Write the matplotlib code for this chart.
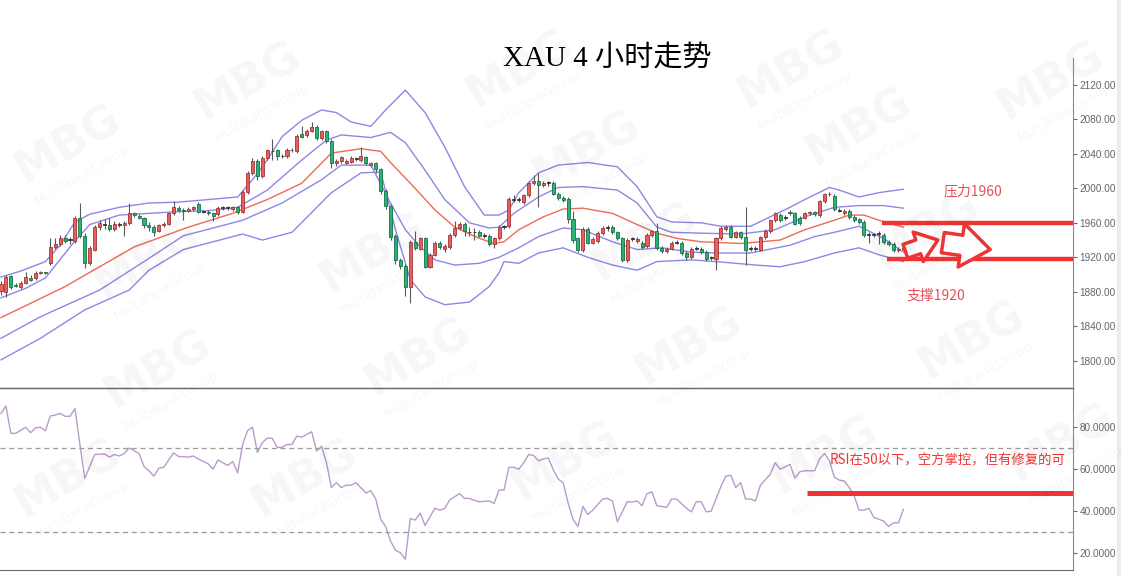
import matplotlib
matplotlib.use("Agg")
import matplotlib.pyplot as plt
from matplotlib.lines import Line2D
import numpy as np

plt.rcParams['font.family'] = ['Noto Sans CJK SC', 'DejaVu Sans']

# 4小时K线 (开, 收, 高, 低)
opens = [1881, 1880, 1898, 1888, 1885, 1890, 1896, 1896, 1902, 1903,
         1913, 1932, 1935, 1942, 1940, 1939, 1966, 1945, 1913, 1929,
         1955, 1958, 1958, 1953, 1958, 1958, 1960, 1971, 1968, 1966,
         1958, 1955, 1951, 1957, 1959, 1971, 1977, 1975, 1974, 1976,
         1982, 1973, 1973, 1971, 1970, 1977, 1977, 1976, 1978, 1972,
         1996, 2018, 2032, 2014, 2035, 2043, 2044, 2037, 2037, 2045,
         2043, 2063, 2062, 2067, 2071, 2058, 2066, 2055, 2030, 2032,
         2030, 2031, 2034, 2033, 2036, 2027, 2029, 2022, 1997, 1980,
         1945, 1917, 1910, 1886, 1938, 1930, 1942, 1909, 1923, 1937,
         1930, 1932, 1946, 1954, 1959, 1949, 1949, 1949, 1945, 1945,
         1935, 1942, 1955, 1956, 1987, 1987, 1984, 1992, 2006, 2008,
         2004, 2006, 2006, 1994, 1989, 1988, 1964, 1942, 1928, 1953,
         1937, 1939, 1948, 1954, 1955, 1949, 1942, 1917, 1941, 1939,
         1937, 1933, 1946, 1950, 1931, 1927, 1930, 1937, 1937, 1925,
         1920, 1930, 1930, 1926, 1919, 1918, 1942, 1953, 1955, 1944,
         1949, 1943, 1930, 1930, 1929, 1943, 1950, 1963, 1969, 1966,
         1973, 1971, 1966, 1966, 1971, 1972, 1969, 1985, 1993, 1991,
         1974, 1971, 1974, 1967, 1964, 1961, 1946, 1946, 1947, 1946,
         1938, 1936, 1928, 1930]
closes = [1889, 1897, 1885, 1887, 1890, 1897, 1894, 1902, 1903, 1902,
          1932, 1935, 1942, 1939, 1940, 1966, 1945, 1913, 1931, 1955,
          1960, 1958, 1953, 1959, 1958, 1960, 1971, 1969, 1966, 1957,
          1955, 1949, 1957, 1959, 1971, 1978, 1975, 1974, 1976, 1978,
          1973, 1973, 1971, 1968, 1977, 1977, 1977, 1978, 1972, 1996,
          2018, 2032, 2014, 2035, 2044, 2043, 2037, 2037, 2045, 2044,
          2061, 2060, 2067, 2071, 2058, 2066, 2055, 2030, 2032, 2036,
          2032, 2035, 2034, 2038, 2030, 2029, 2022, 1997, 1980, 1944,
          1917, 1910, 1886, 1938, 1931, 1942, 1909, 1923, 1937, 1932,
          1933, 1946, 1954, 1959, 1951, 1949, 1949, 1945, 1945, 1935,
          1942, 1955, 1955, 1988, 1987, 1987, 1992, 2006, 2008, 2004,
          2006, 2006, 1994, 1989, 1987, 1964, 1940, 1929, 1953, 1937,
          1941, 1948, 1954, 1954, 1949, 1942, 1917, 1940, 1941, 1941,
          1932, 1946, 1950, 1931, 1927, 1930, 1937, 1937, 1925, 1920,
          1930, 1930, 1926, 1918, 1919, 1942, 1954, 1955, 1944, 1949,
          1943, 1929, 1930, 1930, 1943, 1951, 1963, 1971, 1963, 1966,
          1971, 1959, 1960, 1971, 1972, 1970, 1985, 1993, 1994, 1976,
          1974, 1974, 1967, 1963, 1961, 1946, 1946, 1946, 1947, 1938,
          1935, 1928, 1930, 1930]
highs = [1893, 1899, 1900, 1890, 1892, 1903, 1899, 1904, 1904, 1903,
         1942, 1942, 1946, 1946, 1944, 1968, 1983, 1948, 1933, 1957,
         1963, 1965, 1966, 1962, 1961, 1962, 1983, 1973, 1970, 1967,
         1961, 1958, 1959, 1961, 1973, 1985, 1979, 1977, 1978, 1980,
         1984, 1975, 1975, 1973, 1979, 1979, 1980, 1980, 1979, 1998,
         2020, 2035, 2034, 2037, 2046, 2057, 2046, 2040, 2047, 2047,
         2063, 2072, 2069, 2077, 2073, 2068, 2068, 2057, 2034, 2038,
         2034, 2037, 2036, 2048, 2038, 2031, 2031, 2024, 1999, 1982,
         1947, 1919, 1912, 1940, 1950, 1944, 1944, 1925, 1939, 1939,
         1935, 1948, 1962, 1961, 1961, 1955, 1954, 1952, 1948, 1947,
         1944, 1957, 1958, 1990, 1992, 1990, 1994, 2008, 2015, 2018,
         2008, 2009, 2008, 1996, 1991, 1990, 1974, 1944, 1955, 1955,
         1943, 1950, 1956, 1957, 1957, 1951, 1944, 1942, 1943, 1943,
         1939, 1948, 1952, 1960, 1933, 1932, 1939, 1940, 1939, 1927,
         1932, 1933, 1932, 1928, 1921, 1944, 1956, 1957, 1957, 1951,
         1951, 1978, 1933, 1933, 1945, 1953, 1965, 1973, 1971, 1969,
         1975, 1973, 1968, 1973, 1974, 1974, 1987, 1995, 1996, 1993,
         1977, 1976, 1976, 1969, 1966, 1963, 1949, 1948, 1950, 1948,
         1940, 1938, 1932, 1932]
lows = [1876, 1874, 1883, 1885, 1883, 1889, 1892, 1894, 1901, 1901,
        1911, 1930, 1933, 1937, 1936, 1937, 1942, 1908, 1911, 1927,
        1952, 1953, 1950, 1951, 1955, 1945, 1958, 1967, 1964, 1954,
        1950, 1945, 1949, 1955, 1957, 1969, 1973, 1963, 1972, 1974,
        1971, 1971, 1969, 1962, 1968, 1975, 1975, 1974, 1970, 1971,
        1994, 2016, 2010, 2012, 2033, 2033, 2033, 2035, 2035, 2042,
        2041, 2058, 2060, 2065, 2056, 2056, 2053, 2024, 2026, 2030,
        2028, 2029, 2032, 2031, 2027, 2025, 2018, 1993, 1976, 1940,
        1912, 1906, 1875, 1867, 1929, 1928, 1907, 1907, 1921, 1930,
        1926, 1930, 1944, 1952, 1945, 1945, 1940, 1943, 1942, 1933,
        1931, 1940, 1953, 1954, 1984, 1984, 1982, 1990, 2004, 1978,
        2002, 2003, 1992, 1987, 1984, 1960, 1937, 1926, 1926, 1935,
        1935, 1937, 1946, 1951, 1947, 1940, 1915, 1915, 1939, 1937,
        1930, 1931, 1944, 1929, 1925, 1925, 1928, 1935, 1923, 1917,
        1918, 1928, 1924, 1916, 1917, 1905, 1940, 1951, 1942, 1942,
        1941, 1911, 1927, 1927, 1927, 1941, 1948, 1961, 1961, 1963,
        1969, 1957, 1958, 1964, 1969, 1968, 1967, 1983, 1991, 1974,
        1972, 1969, 1965, 1961, 1959, 1944, 1937, 1944, 1936, 1936,
        1933, 1926, 1926, 1928]

# 布林带 (读取的样本点)
ou_idx = [0, 4, 9, 12, 15, 18, 24, 30, 36, 42, 48, 51, 54, 57, 61, 65, 68,
          71, 75, 78, 82, 86, 90, 94, 98, 101, 103, 105, 109, 113, 119, 125,
          129, 133, 136, 142, 146, 152, 156, 160, 163, 168, 170, 174, 178, 183]
ou_val = [1897, 1904, 1915, 1934, 1961, 1970, 1978, 1983, 1984, 1987, 1990,
          2010, 2033, 2060, 2079, 2091, 2088, 2077, 2072, 2091, 2114, 2088,
          2048, 2002, 1969, 1969, 1975, 1995, 2018, 2027, 2030, 2025, 2002,
          1967, 1961, 1960, 1956, 1956, 1967, 1978, 1987, 2001, 1998, 1990,
          1995, 1999]
iu_idx = [0, 5, 9, 15, 18, 24, 30, 36, 42, 48, 54, 61, 66, 69, 75, 79, 82,
          86, 90, 95, 99, 101, 104, 109, 113, 118, 125, 129, 133, 136, 142,
          150, 157, 163, 169, 174, 179, 183]
iu_val = [1873, 1884, 1896, 1939, 1958, 1969, 1971, 1973, 1974, 1978, 1998,
          2033, 2056, 2062, 2059, 2065, 2053, 2021, 1987, 1960, 1954, 1955,
          1971, 1990, 2001, 2002, 1998, 1983, 1955, 1949, 1948, 1947, 1952,
          1967, 1978, 1980, 1980, 1977]
mid_idx = [0, 13, 20, 27, 38, 47, 54, 61, 67, 73, 77, 79, 83, 88, 92, 97,
           100, 102, 105, 110, 114, 118, 124, 129, 133, 137, 142, 150, 158,
           163, 169, 172, 175, 178, 183]
mid_val = [1850, 1886, 1909, 1932, 1955, 1971, 1987, 2006, 2041, 2046, 2043,
           2030, 2006, 1975, 1955, 1942, 1936, 1938, 1952, 1967, 1976, 1977,
           1971, 1958, 1948, 1942, 1938, 1936, 1940, 1952, 1963, 1969, 1969,
           1963, 1955]
il_idx = [0, 8, 20, 29, 37, 49, 57, 65, 69, 75, 79, 82, 85, 88, 92, 97, 101,
          105, 109, 114, 118, 124, 129, 134, 140, 145, 152, 160, 165, 169,
          174, 179, 183]
il_val = [1826, 1851, 1882, 1915, 1945, 1963, 1983, 2010, 2027, 2027, 1983,
          1952, 1932, 1917, 1911, 1913, 1920, 1931, 1944, 1954, 1952, 1938,
          1929, 1931, 1926, 1925, 1925, 1934, 1944, 1949, 1956, 1942, 1926]
ol_idx = [0, 8, 17, 26, 30, 37, 49, 53, 59, 67, 73, 77, 80, 83, 86, 90, 95,
          99, 101, 102, 105, 109, 114, 119, 124, 129, 133, 140, 145, 153,
          158, 163, 169, 174, 178, 183]
ol_val = [1801, 1826, 1859, 1882, 1905, 1929, 1947, 1940, 1949, 1995, 2018,
          2019, 1952, 1894, 1874, 1865, 1868, 1886, 1902, 1915, 1913, 1925,
          1931, 1920, 1911, 1905, 1915, 1917, 1915, 1911, 1909, 1915, 1925,
          1931, 1923, 1915]

# RSI (读取的拐点)
rsi_idx = [0, 1, 2, 3, 5, 6, 7, 8, 9, 10, 11, 12, 13, 14, 15, 16, 17, 19,
           21, 22, 23, 24, 25, 26, 28, 29, 30, 31, 32, 33, 35, 36, 38, 39,
           40, 42, 43, 44, 45, 46, 47, 48, 49, 50, 51, 52, 53, 54, 55, 56,
           57, 58, 59, 60, 61, 63, 64, 65, 66, 67, 68, 69, 70, 71, 72, 74,
           75, 76, 77, 78, 79, 80, 81, 82, 83, 84, 85, 86, 87, 88, 89, 90,
           91, 93, 94, 95, 96, 97, 99, 100, 101, 102, 103, 104, 105, 106,
           107, 108, 109, 110, 111, 112, 113, 114, 115, 116, 117, 118, 119,
           120, 122, 123, 124, 125, 127, 128, 129, 130, 131, 132, 133, 135,
           136, 137, 139, 140, 141, 142, 143, 144, 146, 147, 148, 149, 150,
           151, 152, 153, 154, 156, 157, 158, 160, 161, 162, 163, 165, 166,
           167, 168, 169, 170, 171, 172, 173, 174, 175, 176, 177, 179, 180,
           181, 182, 183]
rsi_val = [86.5, 90.0, 77.0, 77.0, 79.9, 77.3, 79.6, 79.9, 78.2, 85.3, 85.7,
           86.5, 85.1, 85.1, 88.8, 71.7, 55.6, 66.9, 67.2, 65.7, 66.9, 66.2,
           67.4, 70.0, 67.4, 61.3, 59.2, 56.6, 60.4, 60.8, 67.7, 66.0, 65.7,
           66.2, 64.8, 62.5, 59.9, 64.3, 63.0, 61.7, 63.6, 58.2, 71.7, 78.3,
           79.9, 67.9, 72.6, 74.7, 74.7, 70.3, 70.3, 71.7, 71.7, 75.7, 75.2,
           77.8, 68.6, 70.9, 63.0, 51.2, 53.5, 51.2, 52.3, 52.3, 53.5, 48.6,
           49.7, 45.7, 36.1, 32.6, 25.7, 21.3, 20.1, 17.0, 36.4, 35.7, 39.0,
           33.1, 37.3, 41.3, 40.4, 41.3, 45.3, 48.3, 46.0, 46.0, 45.1, 44.4,
           44.8, 43.6, 50.0, 50.0, 60.8, 60.8, 59.9, 63.0, 66.9, 66.5, 63.9,
           64.8, 65.3, 59.6, 55.2, 53.5, 43.9, 36.1, 32.6, 42.2, 38.3, 40.4,
           45.7, 46.0, 44.8, 34.9, 44.4, 44.3, 44.8, 42.5, 48.3, 49.1, 42.5,
           41.8, 45.7, 45.7, 41.3, 39.6, 44.4, 44.4, 39.6, 39.9, 51.7, 56.6,
           57.0, 51.2, 53.5, 45.7, 45.7, 44.8, 52.3, 57.5, 63.0, 59.9, 62.2,
           55.7, 58.7, 59.2, 59.2, 64.8, 67.4, 63.9, 56.1, 54.7, 54.3, 51.2,
           47.4, 40.4, 40.4, 41.3, 37.0, 35.2, 32.6, 34.4, 34.4, 40.8]

price_ticks = [1800, 1840, 1880, 1920, 1960, 2000, 2040, 2080, 2120]
rsi_ticks = [20, 40, 60, 80]
resistance, support, rsi_mid = 1960, 1918, 48.6

UP, UP_EDGE = '#e8605e', '#a33434'
DN, DN_EDGE = '#27b474', '#17714a'
BAND, MID, RSI_C = '#8f86e6', '#ee6a55', '#b99acb'
MARK = '#ee3434'

fig = plt.figure(figsize=(11.3, 5.76), dpi=100)
fig.add_artist(Line2D([1119 / 1130] * 2, [0, 1], color='#ececec', lw=3,
                      zorder=0))
ax = fig.add_axes([0, 0.3264, 0.9496, 0.5729])
ax2 = fig.add_axes([0, 0.0104, 0.9496, 0.316])

# 水印
for x0, y0 in [(0.22, 0.86), (0.46, 0.88), (0.70, 0.88), (0.93, 0.86),
               (0.06, 0.75), (0.52, 0.74), (0.76, 0.78),
               (0.13, 0.55), (0.33, 0.56), (0.57, 0.58), (0.82, 0.60),
               (0.14, 0.36), (0.37, 0.38), (0.61, 0.40), (0.86, 0.41),
               (0.06, 0.17), (0.27, 0.17), (0.50, 0.20), (0.73, 0.21),
               (0.94, 0.23)]:
    fig.text(x0, y0, 'MBG', fontsize=32, fontweight='bold', color='#000000',
             alpha=0.035, rotation=30, ha='center', va='center',
             family='DejaVu Sans')
    fig.text(x0 + 0.012, y0 - 0.055, 'MultiBankGroup', fontsize=9.5,
             color='#000000', alpha=0.035, rotation=30, ha='center',
             va='center', family='DejaVu Sans')

x = np.arange(len(opens))
o = np.array(opens)
c = np.array(closes)
up = c > o
flat = c == o
body_lo = np.minimum(o, c)
body_h = np.maximum(np.abs(c - o), 0.9)
fc = np.where(up, UP, DN)
ec = np.where(up, UP_EDGE, DN_EDGE)
fc = np.where(flat, '#333333', fc)
ec = np.where(flat, '#333333', ec)

ax.vlines(x, lows, highs, color='#5a5a5a', lw=0.8, zorder=2)
ax.bar(x, body_h, bottom=body_lo, width=0.62, color=fc, edgecolor=ec,
       linewidth=0.6, zorder=3)

for bi, bv in [(ou_idx, ou_val), (iu_idx, iu_val), (il_idx, il_val),
               (ol_idx, ol_val)]:
    ax.plot(bi, bv, color=BAND, lw=1.0, zorder=1)
ax.plot(mid_idx, mid_val, color=MID, lw=1.0, zorder=1)

ax.set_xlim(-0.2, 217.4)
ax.set_ylim(1768.3, 2151.3)
ax2.set_xlim(-0.2, 217.4)
ax2.set_ylim(11.9, 98.6)

# 支撑与压力
ax.plot([178.7, 217.4], [resistance, resistance], color=MARK, lw=3.2,
        solid_capstyle='butt', zorder=4)
ax.plot([179.7, 217.4], [support, support], color=MARK, lw=3.2,
        solid_capstyle='butt', zorder=4)
ax.text(197, 1996, '压力1960', color='#e4505a', fontsize=10, ha='center',
        va='center')
ax.text(189.5, 1876, '支撑1920', color='#e4505a', fontsize=10,
        ha='center', va='center')
ax.annotate('', xy=(190.0, 1940), xytext=(183.4, 1927),
            arrowprops=dict(arrowstyle='simple,head_length=1.0,head_width=1.5,tail_width=0.7',
                            fc='white', ec=MARK, lw=2.5, mutation_scale=15,
                            shrinkA=0, shrinkB=0), zorder=5)
ax.annotate('', xy=(200.6, 1929), xytext=(191.0, 1937),
            arrowprops=dict(arrowstyle='simple,head_length=1.0,head_width=1.5,tail_width=0.7',
                            fc='white', ec=MARK, lw=2.5, mutation_scale=21,
                            shrinkA=0, shrinkB=0), zorder=5)

# RSI
ax2.plot(rsi_idx, rsi_val, color=RSI_C, lw=1.0)
for lvl in (70, 30):
    ax2.axhline(lvl, color='#9a9a9a', lw=0.9, ls=(0, (4, 3)))
ax2.plot([163.5, 217.4], [rsi_mid, rsi_mid], color=MARK, lw=3.6,
         solid_capstyle='butt')
ax2.text(168, 64, 'RSI在50以下，空方掌控，但有修复的可', color=MARK,
         fontsize=9.6, ha='left', va='center')

for a, ticks, fmt in [(ax, price_ticks, '{:.2f}'), (ax2, rsi_ticks, '{:.4f}')]:
    a.set_xticks([])
    a.yaxis.tick_right()
    a.set_yticks(ticks)
    a.set_yticklabels([fmt.format(t) for t in ticks], family='Liberation Sans')
    a.tick_params(axis='y', colors='#666666', labelsize=7.2, length=3,
                  width=0.8, pad=1.5)
    a.spines['top'].set_visible(False)
    a.spines['left'].set_visible(False)
    a.spines['right'].set_color('#8a8a8a')
    a.spines['bottom'].set_color('#6a6a6a')
    a.patch.set_alpha(0)

fig.add_artist(Line2D([0, 0.9496], [0.3264, 0.3264], color='#6a6a6a', lw=1))

fig.text(0.537, 0.90, 'XAU 4 小时走势', fontsize=21, ha='center',
         va='center', family=['Liberation Serif', 'Noto Sans CJK SC'])

fig.savefig('out.png', dpi=100)
